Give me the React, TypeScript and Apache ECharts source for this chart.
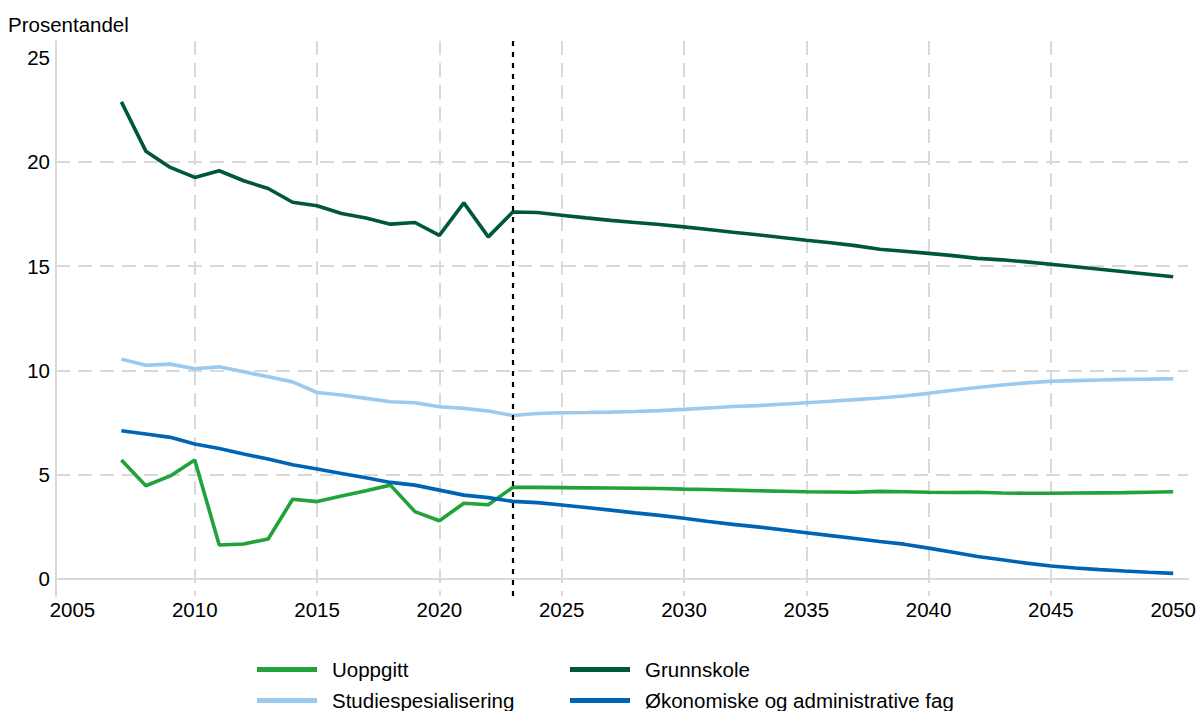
import React, { useEffect, useRef } from "react";
import * as echarts from "echarts";

const years: number[] = [];
for (let y = 2007; y <= 2050; y++) years.push(y);

const uoppgitt = [
  5.70, 4.47, 4.94, 5.70, 1.63, 1.68, 1.92, 3.82, 3.71, 3.98, 4.23, 4.50, 3.23, 2.79, 3.63, 3.56,
  4.39, 4.39, 4.38, 4.37, 4.36, 4.35, 4.34, 4.31, 4.29, 4.26, 4.23, 4.21, 4.18, 4.17, 4.16, 4.20,
  4.18, 4.16, 4.15, 4.16, 4.12, 4.11, 4.11, 4.12, 4.13, 4.14, 4.16, 4.18,
];
const grunnskole = [
  22.87, 20.51, 19.73, 19.25, 19.57, 19.09, 18.72, 18.06, 17.89, 17.52, 17.31, 17.01, 17.09, 16.47, 18.03, 16.40,
  17.59, 17.57, 17.44, 17.31, 17.19, 17.09, 16.99, 16.88, 16.75, 16.62, 16.50, 16.37, 16.24, 16.12, 15.98, 15.81,
  15.71, 15.61, 15.50, 15.37, 15.30, 15.20, 15.09, 14.97, 14.85, 14.73, 14.61, 14.49,
];
const studiespes = [
  10.54, 10.25, 10.30, 10.08, 10.17, 9.93, 9.69, 9.45, 8.94, 8.82, 8.66, 8.50, 8.45, 8.26, 8.18, 8.05,
  7.84, 7.93, 7.97, 7.98, 8.00, 8.03, 8.07, 8.13, 8.20, 8.27, 8.31, 8.38, 8.45, 8.52, 8.60, 8.68,
  8.77, 8.90, 9.05, 9.18, 9.30, 9.40, 9.48, 9.51, 9.54, 9.57, 9.58, 9.60,
];
const okonomiske = [
  7.11, 6.95, 6.79, 6.47, 6.26, 5.99, 5.75, 5.48, 5.27, 5.06, 4.85, 4.63, 4.50, 4.26, 4.02, 3.90,
  3.72, 3.66, 3.55, 3.43, 3.30, 3.17, 3.05, 2.91, 2.76, 2.62, 2.50, 2.36, 2.22, 2.08, 1.94, 1.80,
  1.67, 1.48, 1.28, 1.08, 0.92, 0.76, 0.62, 0.53, 0.45, 0.38, 0.32, 0.27,
];

const xTicks = [2005, 2010, 2015, 2020, 2025, 2030, 2035, 2040, 2045, 2050];
const xGrid = [2010, 2015, 2020, 2025, 2030, 2035, 2040, 2045];
const yTicks = [0, 5, 10, 15, 20, 25];
const yGrid = [5, 10, 15, 20];
const forecastStart = 2023;

const FONT = "'Liberation Sans', Arial, sans-serif";
const FS = 20.5;

export default function App() {
  const ref = useRef<HTMLDivElement>(null);
  useEffect(() => {
    if (!ref.current) return;
    const chart = echarts.init(ref.current, null, { renderer: "svg" });
    const mk = (arr: number[]) => years.map((y, i) => [y, arr[i]]);
    const lineSeries = (name: string, arr: number[], color: string, extra: any = {}) => ({
      name,
      type: "line",
      data: mk(arr),
      showSymbol: false,
      symbol: "none",
      lineStyle: { color, width: 3.6 },
      itemStyle: { color },
      z: 3,
      ...extra,
    });
    const legendBase = {
      orient: "vertical",
      top: 659,
      padding: 0,
      itemWidth: 60,
      itemHeight: 5,
      itemGap: 10,
      icon: "rect",
      textStyle: { fontFamily: FONT, fontSize: FS, color: "#000", lineHeight: 20, padding: [0, 0, 0, 10] },
    };
    chart.setOption({
      animation: false,
      backgroundColor: "#ffffff",
      title: {
        text: "Prosentandel",
        left: 8,
        top: 14,
        padding: 0,
        textStyle: { fontFamily: FONT, fontSize: FS, fontWeight: "normal", color: "#000" },
      },
      grid: { left: 56, right: 9, top: 41, bottom: 115, containLabel: false },
      xAxis: {
        type: "value",
        min: 2004.327,
        max: 2050.61,
        axisLine: { show: true, lineStyle: { color: "#d9d9d9", width: 2 } },
        axisTick: { show: false, customValues: xGrid },
        axisLabel: {
          customValues: xTicks,
          formatter: (v: number) => String(v),
          color: "#000",
          fontFamily: FONT,
          fontSize: FS,
          margin: 3,
        },
        splitLine: { show: true, lineStyle: { color: "#d9d9d9", width: 2, type: [14, 8] } },
      },
      yAxis: {
        type: "value",
        min: -0.815,
        max: 25.79,
        axisLine: { show: true, lineStyle: { color: "#d9d9d9", width: 2 } },
        axisTick: { show: false, customValues: yGrid },
        axisLabel: {
          customValues: yTicks,
          formatter: (v: number) => String(v),
          color: "#000",
          fontFamily: FONT,
          fontSize: FS,
          margin: 6,
        },
        splitLine: { show: true, lineStyle: { color: "#d9d9d9", width: 2, type: [14, 8] } },
      },
      legend: [
        { ...legendBase, left: 257, data: ["Uoppgitt", "Studiespesialisering"] },
        { ...legendBase, left: 570, data: ["Grunnskole", "Økonomiske og administrative fag"] },
      ],
      series: [
        lineSeries("Uoppgitt", uoppgitt, "#22a23a"),
        lineSeries("Grunnskole", grunnskole, "#00573f", {
          markLine: {
            silent: true,
            symbol: ["none", "none"],
            label: { show: false },
            lineStyle: { color: "#000", width: 2.2, type: [5, 6] },
            data: [{ xAxis: forecastStart }],
          },
        }),
        lineSeries("Studiespesialisering", studiespes, "#9ccaee"),
        lineSeries("Økonomiske og administrative fag", okonomiske, "#0064b4"),
      ],
    });
    return () => chart.dispose();
  }, []);
  return (
    <div
      ref={ref}
      style={{ position: "fixed", left: 0, top: 0, width: 1199, height: 711 }}
    />
  );
}
